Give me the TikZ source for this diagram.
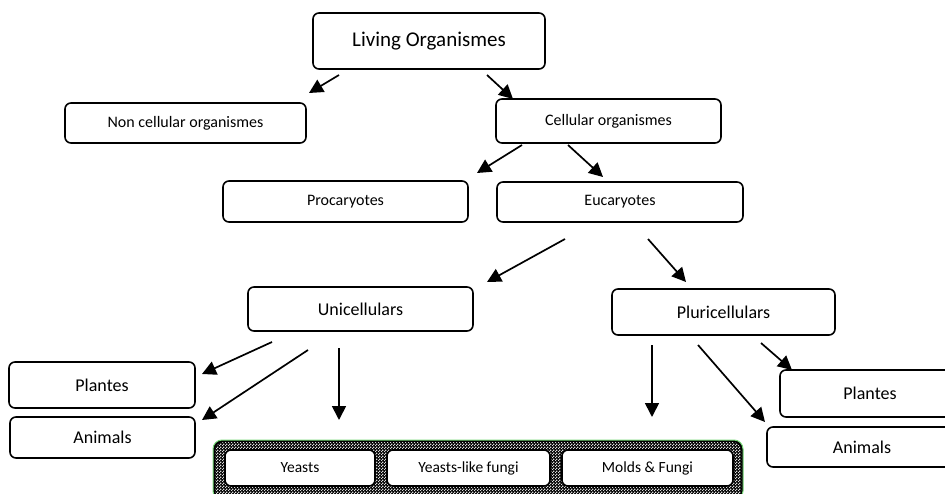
\documentclass[tikz,border=0pt]{standalone}
\usepackage{fontspec}
\setmainfont{Carlito}
\usetikzlibrary{arrows.meta,patterns}
\pgfdeclarepatternformonly{finecheck}{\pgfpointorigin}{\pgfqpoint{3pt}{3pt}}{\pgfqpoint{3pt}{3pt}}{%
  \pgfpathrectangle{\pgfpointorigin}{\pgfqpoint{1.5pt}{1.5pt}}%
  \pgfpathrectangle{\pgfqpoint{1.5pt}{1.5pt}}{\pgfqpoint{1.5pt}{1.5pt}}%
  \pgfusepath{fill}}
\tikzset{
  box/.style={draw=black, line width=1.6pt, rounded corners=6pt, fill=white, inner sep=0pt, anchor=center},
  arr/.style={line width=1.7pt, -{Triangle[length=14pt,width=14pt]}},
  fbig/.style={font=\fontsize{21}{25}\selectfont},
  fmid/.style={font=\fontsize{16}{19}\selectfont},
  flar/.style={font=\fontsize{18}{21}\selectfont},
  fsma/.style={font=\fontsize{15.5}{18}\selectfont},
}
\begin{document}
\begin{tikzpicture}[x=1pt,y=-1pt]
\useasboundingbox (0,0) rectangle (945,494);
% green framed group
\fill[black, rounded corners=9pt] (213,440) rectangle (743,500);
\fill[pattern=finecheck, pattern color=white!85!black, rounded corners=9pt] (215,442) rectangle (741,500);
\draw[green!55!gray!70, line width=1pt, rounded corners=9pt] (213,440) rectangle (743,500);
\node[box, fsma, minimum width=150pt, minimum height=36pt] (yeasts) at (300,468) {Yeasts};
\node[box, fsma, minimum width=163pt, minimum height=36pt] (ylf) at (468.5,468) {Yeasts-like fungi};
\node[box, fsma, minimum width=171pt, minimum height=36pt] (molds) at (647.5,468) {Molds \& Fungi};

\node[box, fbig, minimum width=232pt, minimum height=56pt] (living) at (429,41) {Living Organismes};
\node[box, fmid, minimum width=241pt, minimum height=40pt] (noncell) at (185.5,123) {Non cellular organismes};
\node[box, fmid, minimum width=225pt, minimum height=44pt] (cell) at (608.5,121) {Cellular organismes};
\node[box, fmid, minimum width=245pt, minimum height=41pt] (proc) at (345.5,201.5) {Procaryotes};
\node[box, fmid, minimum width=246pt, minimum height=40pt] (euca) at (620,202) {Eucaryotes};
\node[box, flar, minimum width=225pt, minimum height=44pt] (uni) at (360.5,309) {Unicellulars};
\node[box, flar, minimum width=223pt, minimum height=46pt] (pluri) at (723.5,312) {Pluricellulars};
\node[box, flar, minimum width=186pt, minimum height=46pt] (plantesL) at (102,385) {Plantes};
\node[box, flar, minimum width=185pt, minimum height=41pt] (animalsL) at (102.5,437.5) {Animals};
\node[box, flar, minimum width=180pt, minimum height=47pt] (plantesR) at (870,393.5) {Plantes};
\node[box, flar, minimum width=190pt, minimum height=40pt] (animalsR) at (862,447) {Animals};

% arrow end points
\coordinate (a1s) at (339,75);  \coordinate (a1e) at (309,93);
\coordinate (a2s) at (487,75);  \coordinate (a2e) at (513,99);
\coordinate (a3s) at (522,145); \coordinate (a3e) at (477,173);
\coordinate (a4s) at (568,145); \coordinate (a4e) at (603,177);
\coordinate (a5s) at (565,239); \coordinate (a5e) at (487,282);
\coordinate (a6s) at (648,239); \coordinate (a6e) at (686,282);
\coordinate (a7s) at (272,342); \coordinate (a7e) at (202,374);
\coordinate (a8s) at (308,350); \coordinate (a8e) at (202,420);
\coordinate (a9s) at (339,348); \coordinate (a9e) at (339,420);
\coordinate (a10s) at (652,345); \coordinate (a10e) at (652,417);
\coordinate (a11s) at (698,345); \coordinate (a11e) at (765,422);
\coordinate (a12s) at (761,343); \coordinate (a12e) at (792,370);

\draw[arr] (a1s) -- (a1e);
\draw[arr] (a2s) -- (a2e);
\draw[arr] (a3s) -- (a3e);
\draw[arr] (a4s) -- (a4e);
\draw[arr] (a5s) -- (a5e);
\draw[arr] (a6s) -- (a6e);
\draw[arr] (a7s) -- (a7e);
\draw[arr] (a8s) -- (a8e);
\draw[arr] (a9s) -- (a9e);
\draw[arr] (a10s) -- (a10e);
\draw[arr] (a11s) -- (a11e);
\draw[arr] (a12s) -- (a12e);
\end{tikzpicture}
\end{document}
